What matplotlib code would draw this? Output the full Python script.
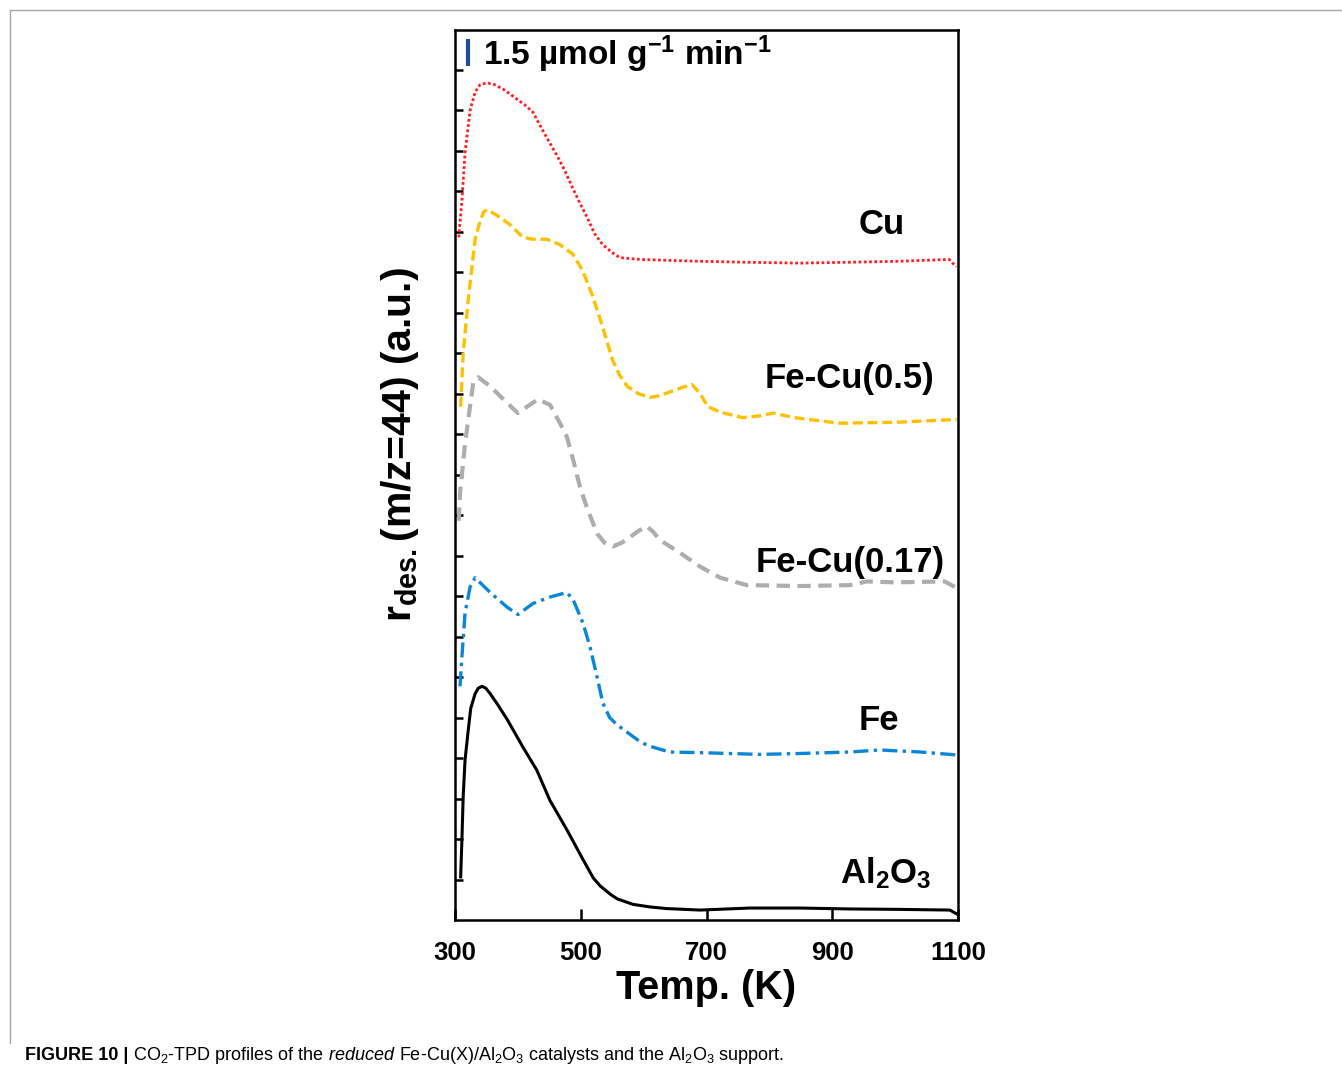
import matplotlib
matplotlib.use("Agg")
import matplotlib.pyplot as plt
from matplotlib import font_manager
from matplotlib.lines import Line2D
import numpy as np

# CO2-TPD desorption profiles, curves stacked with vertical offsets
# temperature in K, rate in umol g-1 min-1 (offset included)
T_cu = [306, 311, 316, 324, 332, 340, 351, 363, 379, 395, 411, 424, 435, 448, 463, 475,
        487, 498, 510, 522, 535, 549, 562, 594, 640, 689, 760, 848, 930, 1006, 1086, 1097]
r_cu = [37.1, 39.1, 41.7, 44.0, 45.0, 45.4, 45.5, 45.4, 45.1, 44.7, 44.3, 43.9, 43.2, 42.4, 41.5, 40.7,
        39.8, 39.0, 38.2, 37.3, 36.7, 36.3, 36.0, 35.9, 35.85, 35.8, 35.75, 35.7, 35.75, 35.8, 35.9, 35.5]

T_fecu05 = [309, 313, 321, 332, 340, 346, 352, 371, 387, 408, 424, 446, 467, 487, 503, 519, 535,
            551, 562, 574, 592, 610, 626, 642, 662, 677, 690, 702, 722, 758, 785, 806, 840, 912, 1000, 1098]
r_fecu05 = [27.9, 30.8, 33.7, 37.0, 38.0, 38.5, 38.6, 38.2, 37.8, 37.1, 37.0, 37.0, 36.7, 36.2, 35.3, 33.9, 32.2,
            30.4, 29.6, 29.0, 28.6, 28.4, 28.5, 28.7, 28.95, 29.1, 28.6, 27.9, 27.6, 27.3, 27.4, 27.55, 27.3, 27.0, 27.05, 27.2]

T_fecu017 = [306, 308, 316, 329, 337, 356, 383, 400, 419, 432, 451, 467, 478, 488, 499, 510,
             526, 538, 551, 565, 578, 592, 605, 615, 626, 658, 690, 722, 764, 850, 928, 955, 1000, 1079, 1095]
r_fecu017 = [21.7, 23.2, 25.9, 29.2, 29.5, 29.0, 28.1, 27.55, 28.0, 28.3, 28.0, 27.0, 26.25, 25.0, 23.5, 22.4,
             21.0, 20.5, 20.3, 20.5, 20.8, 21.15, 21.4, 21.1, 20.65, 19.95, 19.2, 18.6, 18.2, 18.15, 18.2, 18.4, 18.35, 18.4, 18.1]

T_fe = [308, 311, 316, 324, 332, 356, 383, 400, 424, 451, 478, 488, 504, 515, 526, 535,
        546, 558, 574, 590, 605, 624, 642, 706, 785, 850, 928, 976, 1040, 1098]
r_fe = [12.7, 14.3, 16.7, 18.1, 18.6, 17.8, 17.0, 16.6, 17.2, 17.55, 17.8, 17.4, 16.1, 14.8, 13.2, 11.8,
        11.0, 10.6, 10.2, 9.8, 9.5, 9.3, 9.13, 9.08, 9.0, 9.05, 9.13, 9.24, 9.13, 8.97]

T_al2o3 = [309, 311, 313, 316, 321, 325, 332, 337, 343, 349, 356, 368, 383, 408, 430, 451, 478, 504,
           520, 531, 547, 558, 583, 610, 637, 690, 769, 849, 928, 1000, 1087, 1098]
r_al2o3 = [2.34, 4.35, 6.7, 8.7, 10.3, 11.5, 12.3, 12.6, 12.7, 12.6, 12.3, 11.7, 10.9, 9.4, 8.15, 6.5, 4.9, 3.26,
           2.28, 1.85, 1.4, 1.15, 0.85, 0.71, 0.62, 0.54, 0.65, 0.65, 0.6, 0.58, 0.54, 0.33]

labels = ["Cu", "Fe-Cu(0.5)", "Fe-Cu(0.17)", "Fe", r"Al$\mathregular{_2}$O$\mathregular{_3}$"]
label_T = [978, 928, 928, 974, 985]
label_r = [37.3, 28.9, 18.9, 10.3, 2.0]

scale_value = 1.5          # umol g-1 min-1
scale_bottom = 46.4
scale_T = 320.5

x_ticks = [300, 500, 700, 900, 1100]


def pick_font(names, fallback="DejaVu Sans"):
    have = {f.name for f in font_manager.fontManager.ttflist}
    for n in names:
        if n in have:
            return n
    return fallback


main_font = pick_font(["Liberation Sans", "Arial"])
cap_font = pick_font(["Liberation Sans Narrow", "Liberation Sans"])
plt.rcParams["font.family"] = [main_font, "DejaVu Sans"]

W, H = 1342, 1070
fig = plt.figure(figsize=(W / 100, H / 100), dpi=100)
ax = fig.add_axes([455 / W, 1 - 920 / H, 503 / W, 890 / H])

ax.plot(T_cu, r_cu, color="#ff1f1f", lw=2.0, linestyle=(0, (1, 0.9)))
ax.plot(T_fecu05, r_fecu05, color="#ffc000", lw=2.4, linestyle=(0, (3, 1.4)))
ax.plot(T_fecu017, r_fecu017, color="#adadad", lw=3.0, linestyle=(0, (3.2, 1.8)))
ax.plot(T_fe, r_fe, color="#0a86d8", lw=2.4, linestyle=(0, (4.5, 1.6, 1, 1.6)))
ax.plot(T_al2o3, r_al2o3, color="black", lw=2.2)

for txt, tx, ry in zip(labels, label_T, label_r):
    ax.text(tx, ry, txt, ha="center", va="baseline", fontsize=25, fontweight="bold")

# scale bar
ax.plot([scale_T, scale_T], [scale_bottom, scale_bottom + scale_value],
        color="#1f4e8c", lw=3, solid_capstyle="butt")
ax.text(344, scale_bottom + 0.05,
        r"%.1f µmol g$\mathregular{^{-1}}$ min$\mathregular{^{-1}}$" % scale_value,
        ha="left", va="baseline", fontsize=24, fontweight="bold")

ax.set_xlim(300, 1100)
ax.set_ylim(0, 890 / 18.4)
ax.set_xticks(x_ticks)
ax.set_xticklabels([str(t) for t in x_ticks], fontsize=18.5, fontweight="bold")
ax.set_yticks(np.arange(1, 22) * 2.2)
ax.set_yticklabels([])
ax.tick_params(axis="x", direction="in", length=8, width=1.8, pad=15, top=False)
ax.tick_params(axis="y", direction="in", length=6, width=1.8, right=False)
for sp in ax.spines.values():
    sp.set_linewidth(1.8)

ax.set_xlabel("Temp. (K)", fontsize=28.5, fontweight="bold", labelpad=3)
ax.set_ylabel(r"r$\mathregular{_{des.}}$(m/z=44) (a.u.)", fontsize=29.5,
              fontweight="bold", va="center")
ax.yaxis.set_label_coords((400 - 455) / 503, (920 - 445) / 890)

# page frame
fc = "#a8a8a8"
fig.add_artist(Line2D([10 / W, 1], [1 - 10 / H, 1 - 10 / H], transform=fig.transFigure, color=fc, lw=1))
fig.add_artist(Line2D([10 / W, 10 / W], [1 - 10 / H, 1 - 1043 / H], transform=fig.transFigure, color=fc, lw=1))

# caption, drawn piece by piece so bold/italic parts line up
renderer = fig.canvas.get_renderer()
pieces = [
    ("FIGURE 10 |", dict(fontweight="bold")),
    (r" CO$\mathregular{_2}$-TPD profiles of the", {}),
    (" reduced", dict(fontstyle="italic")),
    (r" Fe-Cu(X)/Al$\mathregular{_2}$O$\mathregular{_3}$ catalysts and the Al$\mathregular{_2}$O$\mathregular{_3}$ support.", {}),
]
cx = 25 / W
cy = 1 - 1060 / H
for txt, kw in pieces:
    t = fig.text(cx, cy, txt, fontsize=13.0, family=[cap_font, "DejaVu Sans"], va="baseline", **kw)
    bb = t.get_window_extent(renderer)
    cx = bb.x1 / fig.bbox.width

fig.savefig("out.png", dpi=100)
